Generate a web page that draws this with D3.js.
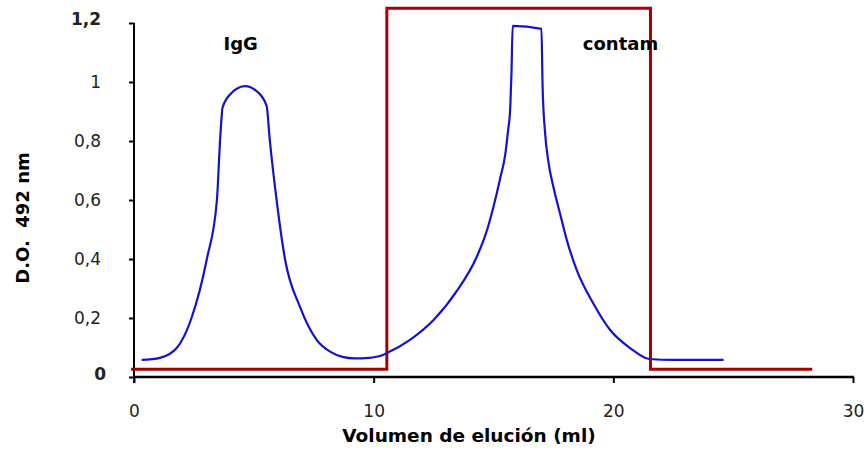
<!DOCTYPE html>
<html><head><meta charset="utf-8">
<script src="https://cdn.jsdelivr.net/npm/d3@7"></script>
<style>body{margin:0;background:#fff}svg{display:block}</style>
</head><body>
<svg id="c" width="868" height="457"></svg>
<script>
// Data
const blueX = [0.32,1.08,1.8,2.4,3.04,3.46,3.59,3.7,4.1,4.63,5.1,5.53,5.67,5.95,6.3,6.93,7.63,8.2,8.7,9.2,9.8,10.26,10.55,11.5,12.5,13.5,14.3,14.7,15.0,15.27,15.5,15.6,15.7,15.75,15.8,17.0,17.05,17.15,17.28,17.5,17.77,18.06,18.47,19.16,19.86,20.7,21.5,22.5,24.6];
const blueY = [0.058,0.065,0.1,0.2,0.4,0.6,0.8,0.915,0.965,0.986,0.97,0.92,0.8,0.6,0.4,0.237,0.125,0.085,0.068,0.063,0.065,0.071,0.081,0.125,0.193,0.295,0.407,0.49,0.577,0.67,0.76,0.83,0.915,1.03,1.19,1.18,0.98,0.83,0.735,0.644,0.556,0.464,0.363,0.25,0.16,0.098,0.061,0.058,0.058];
const redX = [-0.12,10.55,10.55,21.55,21.55,28.3];
const redY = [0.026,0.026,1.25,1.25,0.026,0.026];
const yTicks = [0,0.2,0.4,0.6,0.8,1,1.2];
const yTickLabels = ["0","0,2","0,4","0,6","0,8","1","1,2"];
const xTicks = [0,10,20,30];
const xTickLabels = ["0","10","20","30"];
const labels = [{text:"IgG", x:4.45, y:1.11},{text:"contam", x:20.3, y:1.11}];

const svg = d3.select("#c");
const x = d3.scaleLinear().domain([0,30]).range([134,853]);
const y = d3.scaleLinear().domain([0,1.2]).range([377,23]);
const font = "'DejaVu Sans', Verdana, sans-serif";

// Y axis
const ya = svg.append("g").attr("transform",`translate(${x(0)},0)`)
  .call(d3.axisLeft(y).tickValues(yTicks).tickFormat((d,i)=>yTickLabels[i]).tickSize(5).tickSizeOuter(0).tickPadding(28));
ya.select(".domain").remove();
ya.selectAll(".tick line").attr("stroke","#000").attr("stroke-width",2);
ya.selectAll(".tick text").attr("font-family",font).attr("font-size",17).attr("fill","#222");
ya.selectAll(".tick text").filter(d=>d===0).attr("font-weight","bold").attr("dx",5).attr("dy","0.15em");
ya.selectAll(".tick text").filter(d=>d===1.2).attr("font-weight","bold").attr("dy","0.1em");
svg.append("line").attr("x1",x(0)).attr("x2",x(0)).attr("y1",y(1.2)).attr("y2",y(0)+6)
  .attr("stroke","#000").attr("stroke-width",2);

// X axis
const xa = svg.append("g").attr("transform",`translate(0,${y(0)})`)
  .call(d3.axisBottom(x).tickValues(xTicks).tickFormat((d,i)=>xTickLabels[i]).tickSize(6).tickSizeOuter(0).tickPadding(22));
xa.select(".domain").remove();
xa.selectAll(".tick line").attr("stroke","#000").attr("stroke-width",2);
xa.selectAll(".tick text").attr("font-family",font).attr("font-size",17).attr("fill","#222");
svg.append("line").attr("x1",x(0)-1).attr("x2",x(30)+1).attr("y1",y(0)).attr("y2",y(0))
  .attr("stroke","#000").attr("stroke-width",2.5);

// Red fraction line
const redData = redX.map((v,i)=>[v,redY[i]]);
svg.append("path").datum(redData)
  .attr("d", d3.line().x(d=>x(d[0])).y(d=>y(d[1])))
  .attr("fill","none").attr("stroke","#a80000").attr("stroke-width",3).attr("stroke-linejoin","miter");

// Blue elution curve
const blueData = blueX.map((v,i)=>[v,blueY[i]]);
svg.append("path").datum(blueData)
  .attr("d", d3.line().x(d=>x(d[0])).y(d=>y(d[1])).curve(d3.curveMonotoneX))
  .attr("fill","none").attr("stroke","#1212d2").attr("stroke-width",2.2);

// Peak labels
labels.forEach(l=>{
  svg.append("text").attr("x",x(l.x)).attr("y",y(l.y))
    .attr("text-anchor","middle").attr("font-family",font).attr("font-weight","bold")
    .attr("font-size",18).attr("fill","#000").text(l.text);
});

// Axis titles
svg.append("text").attr("x",469).attr("y",442).attr("text-anchor","middle")
  .attr("font-family",font).attr("font-weight","bold").attr("font-size",18.5).attr("fill","#000")
  .text("Volumen de elución (ml)");
svg.append("text").attr("transform","translate(29,218) rotate(-90)").attr("text-anchor","middle")
  .attr("font-family",font).attr("font-weight","bold").attr("font-size",18).attr("fill","#000")
  .attr("xml:space","preserve").style("white-space","pre")
  .text("D.O.  492 nm");
</script>
</body></html>
